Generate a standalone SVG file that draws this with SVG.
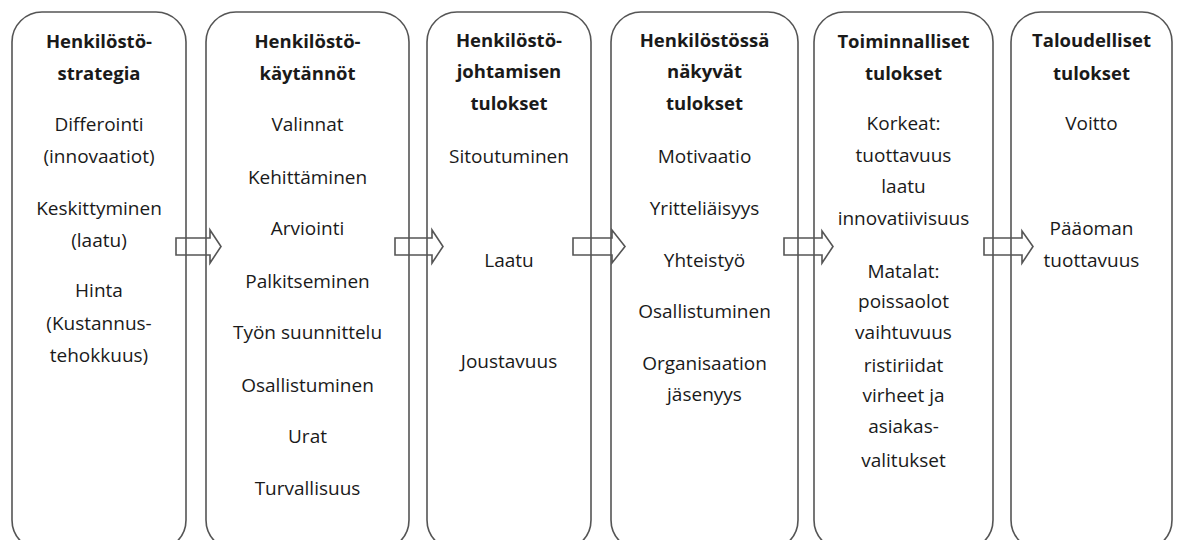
<svg xmlns="http://www.w3.org/2000/svg" width="1177" height="540" viewBox="0 0 1177 540">
  <style>
    .box { fill: #ffffff; stroke: #555555; stroke-width: 1.6; }
    .arrow { fill: none; stroke: #555555; stroke-width: 1.6; stroke-linejoin: miter; }
    text { font-family: "Open Sans", "Liberation Sans", sans-serif; font-size: 19px; fill: #1a1a1a; text-anchor: middle; }
    .head { font-weight: bold; font-size: 18.5px; }
  </style>
  <rect width="1177" height="540" fill="#ffffff"/>

  <!-- columns -->
  <g id="strategia">
    <rect class="box" x="12" y="12" width="174" height="538" rx="30" ry="30"/>
    <text class="head" x="99" y="48">Henkilöstö-</text>
    <text class="head" x="99" y="80">strategia</text>
    <text x="99" y="131">Differointi</text>
    <text x="99" y="163">(innovaatiot)</text>
    <text x="99" y="215">Keskittyminen</text>
    <text x="99" y="247">(laatu)</text>
    <text x="99" y="297">Hinta</text>
    <text x="99" y="330">(Kustannus-</text>
    <text x="99" y="362">tehokkuus)</text>
  </g>

  <g id="kaytannot">
    <rect class="box" x="206" y="12" width="203" height="538" rx="30" ry="30"/>
    <text class="head" x="307.5" y="48">Henkilöstö-</text>
    <text class="head" x="307.5" y="80">käytännöt</text>
    <text x="307.5" y="131">Valinnat</text>
    <text x="307.5" y="184">Kehittäminen</text>
    <text x="307.5" y="235">Arviointi</text>
    <text x="307.5" y="288">Palkitseminen</text>
    <text x="307.5" y="339">Työn suunnittelu</text>
    <text x="307.5" y="392">Osallistuminen</text>
    <text x="307.5" y="443">Urat</text>
    <text x="307.5" y="495">Turvallisuus</text>
  </g>

  <g id="johtamisen-tulokset">
    <rect class="box" x="427" y="12" width="164" height="538" rx="30" ry="30"/>
    <text class="head" x="509" y="47">Henkilöstö-</text>
    <text class="head" x="509" y="78">johtamisen</text>
    <text class="head" x="509" y="110">tulokset</text>
    <text x="509" y="163">Sitoutuminen</text>
    <text x="509" y="267">Laatu</text>
    <text x="509" y="368">Joustavuus</text>
  </g>

  <g id="nakyvat-tulokset">
    <rect class="box" x="611" y="12" width="187" height="538" rx="30" ry="30"/>
    <text class="head" x="704.5" y="47">Henkilöstössä</text>
    <text class="head" x="704.5" y="78">näkyvät</text>
    <text class="head" x="704.5" y="110">tulokset</text>
    <text x="704.5" y="163">Motivaatio</text>
    <text x="704.5" y="215">Yritteliäisyys</text>
    <text x="704.5" y="267">Yhteistyö</text>
    <text x="704.5" y="318">Osallistuminen</text>
    <text x="704.5" y="370">Organisaation</text>
    <text x="704.5" y="401">jäsenyys</text>
  </g>

  <g id="toiminnalliset-tulokset">
    <rect class="box" x="814" y="12" width="179" height="538" rx="30" ry="30"/>
    <text class="head" x="903.5" y="48">Toiminnalliset</text>
    <text class="head" x="903.5" y="80">tulokset</text>
    <text x="903.5" y="130">Korkeat:</text>
    <text x="903.5" y="162">tuottavuus</text>
    <text x="903.5" y="193">laatu</text>
    <text x="903.5" y="225">innovatiivisuus</text>
    <text x="903.5" y="278">Matalat:</text>
    <text x="903.5" y="308">poissaolot</text>
    <text x="903.5" y="339">vaihtuvuus</text>
    <text x="903.5" y="372">ristiriidat</text>
    <text x="903.5" y="402">virheet ja</text>
    <text x="903.5" y="433">asiakas-</text>
    <text x="903.5" y="467">valitukset</text>
  </g>

  <g id="taloudelliset-tulokset">
    <rect class="box" x="1011" y="12" width="161" height="538" rx="30" ry="30"/>
    <text class="head" x="1091.5" y="47">Taloudelliset</text>
    <text class="head" x="1091.5" y="80">tulokset</text>
    <text x="1091.5" y="130">Voitto</text>
    <text x="1091.5" y="235">Pääoman</text>
    <text x="1091.5" y="267">tuottavuus</text>
  </g>

  <!-- block arrows between columns -->
  <g id="connectors">
    <path class="arrow" d="M176,238 H210 V230 L221,246.5 L210,263 V255 H176 Z"/>
    <path class="arrow" d="M395,238 H432 V230 L443,246.5 L432,263 V255 H395 Z"/>
    <path class="arrow" d="M573,238 H612 V230 L625,246.5 L612,263 V255 H573 Z"/>
    <path class="arrow" d="M784,238 H822 V231 L833,246.5 L822,263 V255 H784 Z"/>
    <path class="arrow" d="M984,238 H1022 V231 L1033,246.5 L1022,263 V255 H984 Z"/>
  </g>
</svg>
